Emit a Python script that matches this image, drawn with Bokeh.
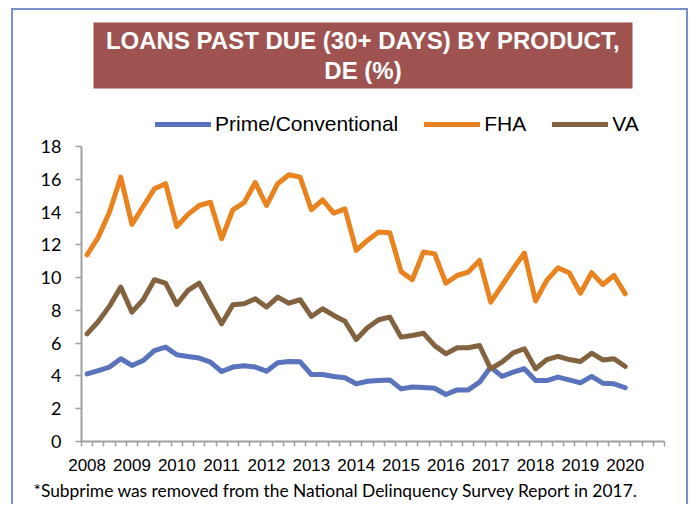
from bokeh.plotting import figure
from bokeh.models import Range1d, FixedTicker, Legend, LegendItem, Title, Label, BoxAnnotation
from bokeh.embed import file_html
from bokeh.resources import INLINE

# ---- data (quarterly, 2008Q1 .. 2020Q1) ----
years = ["2008", "2009", "2010", "2011", "2012", "2013", "2014",
         "2015", "2016", "2017", "2018", "2019", "2020"]
n_quarter_slots = 52

prime = [4.13, 4.33, 4.54, 5.05, 4.64, 4.94, 5.55, 5.76, 5.29, 5.19, 5.09, 4.84,
         4.27, 4.54, 4.62, 4.54, 4.29, 4.80, 4.88, 4.86, 4.09, 4.09, 3.97, 3.89,
         3.52, 3.68, 3.72, 3.76, 3.21, 3.32, 3.30, 3.25, 2.87, 3.15, 3.15, 3.62,
         4.54, 3.97, 4.23, 4.44, 3.72, 3.72, 3.93, 3.76, 3.58, 3.97, 3.56, 3.52,
         3.28]
fha = [11.39, 12.47, 14.00, 16.13, 13.25, 14.34, 15.42, 15.73, 13.12, 13.86, 14.40, 14.60,
       12.37, 14.14, 14.57, 15.80, 14.40, 15.73, 16.28, 16.13, 14.14, 14.75, 13.94, 14.20,
       11.66, 12.27, 12.78, 12.74, 10.38, 9.87, 11.56, 11.45, 9.66, 10.13, 10.34, 11.05,
       8.50, 9.52, 10.54, 11.50, 8.57, 9.83, 10.60, 10.30, 9.05, 10.30, 9.58, 10.13,
       9.01]
va = [6.57, 7.32, 8.26, 9.42, 7.89, 8.65, 9.87, 9.66, 8.36, 9.22, 9.66, 8.40,
      7.18, 8.34, 8.40, 8.71, 8.20, 8.81, 8.44, 8.65, 7.63, 8.10, 7.69, 7.34,
      6.23, 6.94, 7.43, 7.59, 6.37, 6.47, 6.61, 5.85, 5.35, 5.72, 5.72, 5.86,
      4.44, 4.84, 5.41, 5.66, 4.44, 5.00, 5.19, 5.00, 4.88, 5.39, 4.98, 5.05,
      4.58]

x = list(range(len(prime)))

BLUE = "#5A73BD"
ORANGE = "#E9831F"
BROWN = "#83623F"
AXIS = "#A0A0A0"
FRAME_BORDER = "2px solid #7A90CC"

# frame reaches the top of the canvas; the value axis itself stops at 18
p = figure(width=677, height=496, output_backend="svg", toolbar_location=None,
           x_range=Range1d(-0.5, n_quarter_slots - 0.5), y_range=Range1d(0, 26.30),
           min_border_left=68, min_border_right=26, min_border_top=0, min_border_bottom=65)
p.title = None
p.outline_line_color = None
p.xgrid.visible = False
p.ygrid.visible = False
p.background_fill_color = "white"
p.border_fill_color = "white"
p.styles = {"margin-left": "11px", "margin-top": "8px",
            "border-left": FRAME_BORDER, "border-top": FRAME_BORDER,
            "border-right": FRAME_BORDER}

r1 = p.line(x, prime, line_width=5, line_color=BLUE, line_join="round", line_cap="round")
r2 = p.line(x, fha, line_width=5, line_color=ORANGE, line_join="round", line_cap="round")
r3 = p.line(x, va, line_width=5, line_color=BROWN, line_join="round", line_cap="round")

# x axis: year labels at Q1 of every year, small ticks between quarters
xa = p.xaxis[0]
xa.ticker = FixedTicker(ticks=[4 * i for i in range(len(years))],
                        minor_ticks=[k - 0.5 for k in range(n_quarter_slots + 1)])
xa.major_label_overrides = {4 * i: y for i, y in enumerate(years)}
xa.major_tick_out = 0
xa.major_tick_in = 0
xa.minor_tick_out = 5
xa.minor_tick_in = 0
xa.minor_tick_line_color = AXIS
xa.minor_tick_line_width = 1.5
xa.axis_line_color = AXIS
xa.axis_line_width = 2
xa.major_label_text_font = "Liberation Sans"
xa.major_label_text_font_size = "17px"
xa.major_label_text_color = "#000000"
xa.major_label_standoff = 12

ya = p.yaxis[0]
ya.ticker = FixedTicker(ticks=list(range(0, 19, 2)), minor_ticks=[])
ya.bounds = (0, 18)
ya.major_tick_out = 6
ya.major_tick_in = 0
ya.major_tick_line_color = AXIS
ya.major_tick_line_width = 1.5
ya.axis_line_color = AXIS
ya.axis_line_width = 2
ya.major_label_text_font = "Lato"
ya.major_label_text_font_size = "18px"
ya.major_label_text_color = "#000000"
ya.major_label_standoff = 14

legend = Legend(items=[LegendItem(label="Prime/Conventional", renderers=[r1]),
                       LegendItem(label="FHA", renderers=[r2]),
                       LegendItem(label="VA", renderers=[r3])],
                orientation="horizontal", location=(74, 305),
                label_text_font="Liberation Sans", label_text_font_size="21px",
                label_text_color="#000000", label_height=20,
                glyph_width=56, glyph_height=20, label_standoff=4, spacing=26,
                border_line_color=None, background_fill_alpha=0,
                margin=0, padding=0)
p.add_layout(legend, "center")

# title box
p.add_layout(BoxAnnotation(left=12, right=551, top=419, bottom=353,
                           left_units="screen", right_units="screen",
                           top_units="screen", bottom_units="screen",
                           fill_color="#9E5350", fill_alpha=1, line_color=None,
                           editable=False))
for txt, ty in [("LOANS PAST DUE (30+ DAYS) BY PRODUCT,", 401), ("DE (%)", 371)]:
    p.add_layout(Label(x=281.5, y=ty, x_units="screen", y_units="screen", text=txt,
                       text_align="center", text_baseline="middle",
                       text_font="Liberation Sans", text_font_size="24px",
                       text_font_style="bold", text_color="white"))

note = Title(text="*Subprime was removed from the National Delinquency Survey Report in 2017.",
             align="left", text_font="Lato", text_font_size="17.4px",
             text_font_style="normal", text_color="#000000", offset=-48, standoff=8)
p.add_layout(note, "below")

open("out.html", "w").write(file_html(p, INLINE))
